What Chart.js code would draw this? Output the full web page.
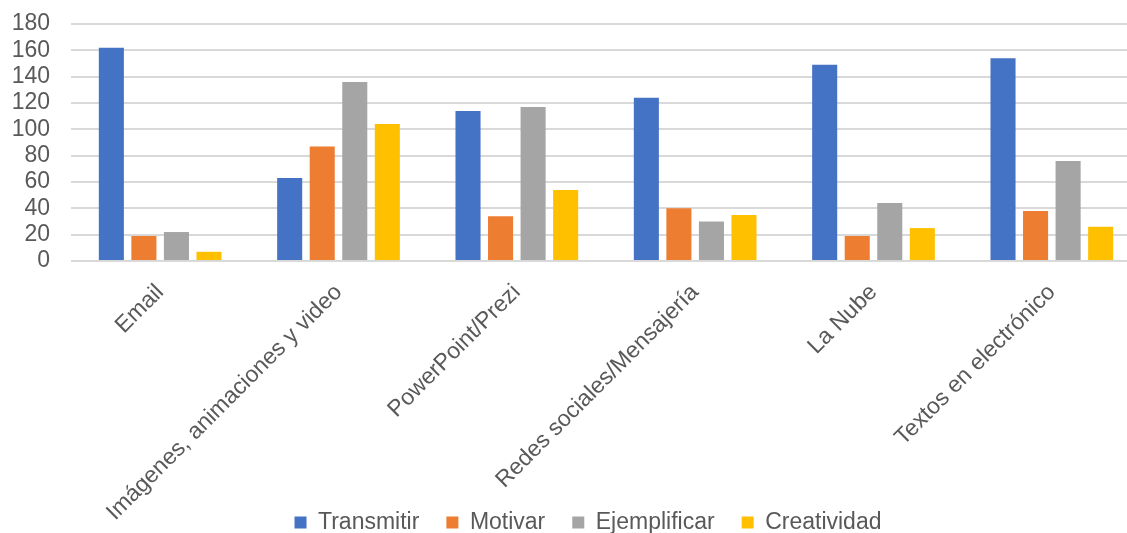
<!DOCTYPE html>
<html lang="es">
<head>
<meta charset="utf-8">
<title>Uso de herramientas digitales</title>
<script src="https://cdn.jsdelivr.net/npm/chart.js@4/dist/chart.umd.min.js"></script>
<style>
  html, body { margin: 0; padding: 0; background: #ffffff; overflow: hidden; }
  #wrap { position: relative; width: 1141px; height: 533px; }
</style>
</head>
<body>
<div id="wrap"><canvas id="chart"></canvas></div>
<script>
// Categories (tools) and the count for each purpose
const categories = [
  'Email',
  'Imágenes, animaciones y video',
  'PowerPoint/Prezi',
  'Redes sociales/Mensajería',
  'La Nube',
  'Textos en electrónico'
];
const transmitir   = [162, 63, 114, 124, 149, 154];
const motivar      = [19, 87, 34, 40, 19, 38];
const ejemplificar = [22, 136, 117, 30, 44, 76];
const creatividad  = [7, 104, 54, 35, 25, 26];
const seriesNames  = ['Transmitir', 'Motivar', 'Ejemplificar', 'Creatividad'];
const yTicks       = [0, 20, 40, 60, 80, 100, 120, 140, 160, 180];

const palette = ['#4472C4', '#ED7D31', '#A5A5A5', '#FFC000'];
const FONT = '"Liberation Sans", Arial, sans-serif';
const TEXT = '#595959';

const seriesData = [transmitir, motivar, ejemplificar, creatividad];

// The legend takes no layout space: it floats over the bottom strip,
// beside the long rotated category labels, centred under the plot.
const legendFloat = {
  id: 'legendFloat',
  beforeLayout(chart) {
    const lg = chart.legend;
    if (!lg || lg._floatWrapped) return;
    const origFit = lg.fit.bind(lg);
    lg.fit = function () {
      origFit();
      this._realHeight = this.height;
      this.height = 0;
    };
    lg._floatWrapped = true;
  },
  afterLayout(chart) {
    const lg = chart.legend;
    if (!lg) return;
    lg.left += 35;
    lg.top = 484;
    lg.bottom = 540;
    lg.height = lg.bottom - lg.top;
  }
};

new Chart(document.getElementById('chart'), {
  type: 'bar',
  data: {
    labels: categories,
    datasets: seriesNames.map((name, i) => ({
      label: name,
      data: seriesData[i],
      backgroundColor: palette[i],
      borderWidth: 0,
      categoryPercentage: 0.73,
      barPercentage: 0.77
    }))
  },
  plugins: [legendFloat],
  options: {
    responsive: true,
    maintainAspectRatio: false,
    animation: false,
    layout: { padding: 0 },
    plugins: {
      tooltip: { enabled: false },
      legend: {
        position: 'bottom',
        labels: {
          font: { family: FONT, size: 23 },
          color: TEXT,
          boxWidth: 12,
          boxHeight: 12,
          padding: 27
        }
      }
    },
    scales: {
      x: {
        grid: { display: false },
        border: { display: false },
        ticks: {
          autoSkip: false,
          minRotation: 45,
          maxRotation: 45,
          padding: 10,
          color: TEXT,
          font: { family: FONT, size: 23 }
        },
        afterFit(scale) { scale.height = 272; }
      },
      y: {
        min: 0,
        max: 180,
        afterBuildTicks(scale) { scale.ticks = yTicks.map(v => ({ value: v })); },
        grid: { color: '#d9d9d9', lineWidth: 2, drawTicks: false },
        border: { display: false },
        ticks: {
          autoSkip: false,
          padding: 21,
          color: TEXT,
          font: { family: FONT, size: 23 }
        },
        afterFit(scale) {
          scale.width = 71;
          scale.paddingTop = 24;
        }
      }
    }
  }
});
</script>
</body>
</html>
